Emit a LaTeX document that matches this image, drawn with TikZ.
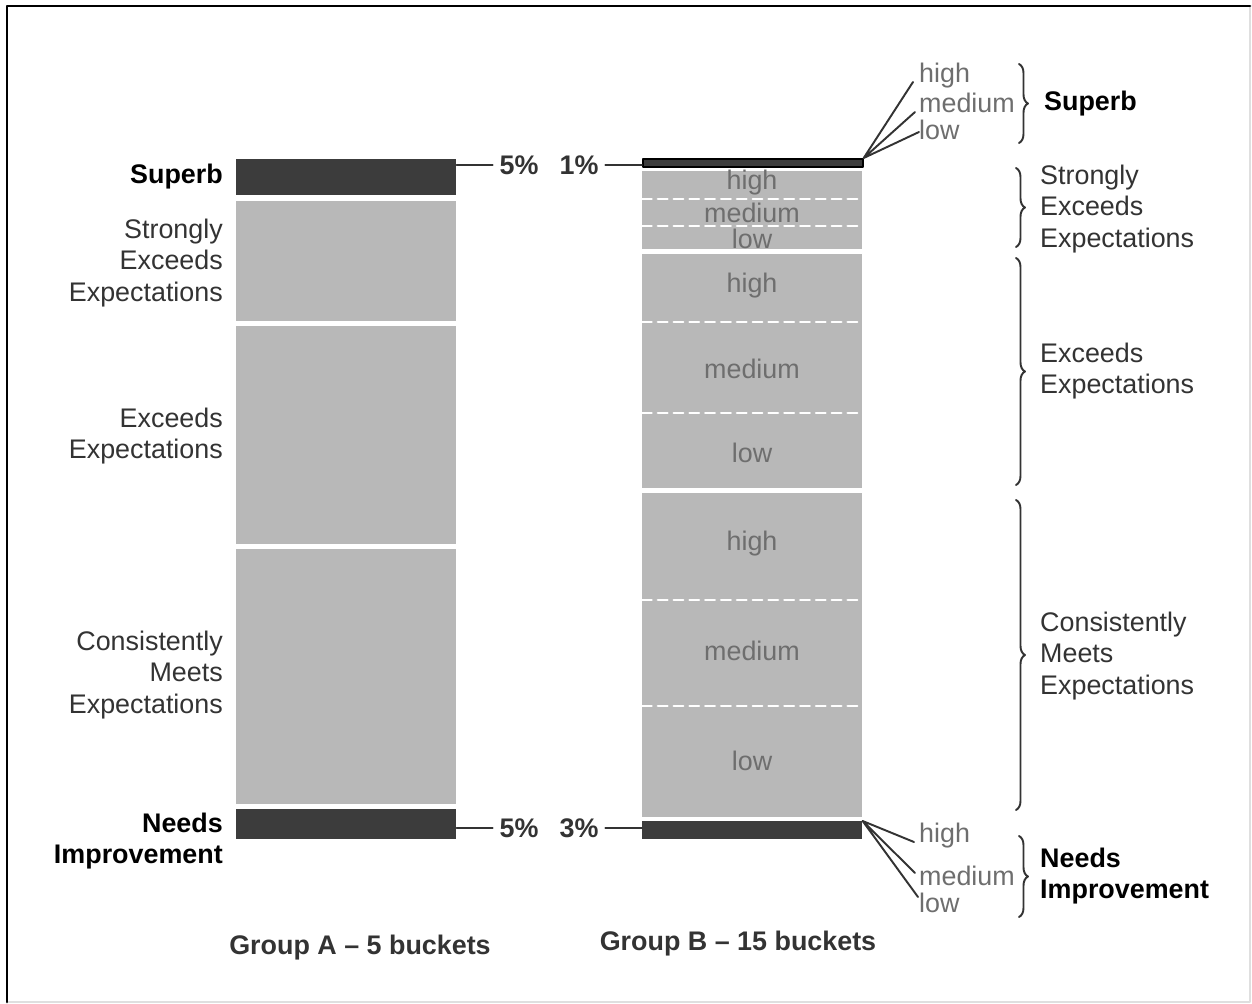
\documentclass[tikz,border=0pt]{standalone}
\usepackage{fontspec}
\setmainfont{Liberation Sans}
\usetikzlibrary{decorations.pathreplacing}
\definecolor{bardark}{HTML}{3C3C3C}
\definecolor{bargray}{HTML}{B8B8B8}
\definecolor{txtgray}{HTML}{333333}
\definecolor{subgray}{HTML}{6E6E6E}
\tikzset{
	bucket/.style={rectangle, inner sep=0pt, anchor=north west, minimum width=4.4cm},
	darkbucket/.style={bucket, fill=bardark},
	graybucket/.style={bucket, fill=bargray},
	split/.style={white, line width=1.3pt, dash pattern=on 5.5pt off 3.5pt},
	level/.style={text=subgray},
	rating/.style={text=txtgray, align=left, anchor=west},
	bigbrace/.style={decorate, decoration={brace, amplitude=0.18cm}, line width=1.1pt, txtgray},
}
\begin{document}
\begin{tikzpicture}[x=0.02cm, y=-0.02cm, font=\fontsize{15.3}{18}\selectfont, line join=round, line cap=round]
		\useasboundingbox (0,0) rectangle (1252,1004);
		% frame
		\draw[gray!25, line width=1pt] (1250,6) -- (1250,1002) -- (7,1002);
		\draw[line width=1.6pt] (7,1002) -- (7,6) -- (1250,6);

		% group A
		\node[darkbucket, minimum height=0.72cm] (supA) at (236,159) {};
		\node[graybucket, minimum height=2.4cm] (seeA) at (236,201) {};
		\node[graybucket, minimum height=4.36cm] (eeA) at (236,326) {};
		\node[graybucket, minimum height=5.1cm] (cmeA) at (236,549) {};
		\node[darkbucket, minimum height=0.6cm] (niA) at (236,809) {};

		\node[anchor=east, font=\fontsize{15.3}{18}\selectfont\bfseries] (supAl) at (229,177) {Superb};
		\node[anchor=east, align=right, text=txtgray] (seeAl) at (229,263) {Strongly\\Exceeds\\Expectations};
		\node[anchor=east, align=right, text=txtgray] (eeAl) at (229,436) {Exceeds\\Expectations};
		\node[anchor=east, align=right, text=txtgray] (cmeAl) at (229,675) {Consistently\\Meets\\Expectations};
		\node[anchor=east, align=right, font=\fontsize{15.3}{18}\selectfont\bfseries] (niAl) at (229,841) {Needs\\Improvement};

		% group B
		\node[darkbucket, draw=black, line width=1pt, minimum height=0.16cm] (supB) at (642,158) {};
		\node[graybucket, minimum height=1.56cm] (seeB) at (642,171) {};
		\node[graybucket, minimum height=4.68cm] (eeB) at (642,254) {};
		\node[graybucket, minimum height=6.48cm] (cmeB) at (642,493) {};
		\node[darkbucket, minimum height=0.36cm] (niB) at (642,821) {};
		\foreach \y in {199,226,322,413,600,706}
			\draw[split] (642,\y) -- (862,\y);

		\node[level] (hiSee) at (752,183) {high};
		\node[level] (mdSee) at (752,213) {medium};
		\node[level] (loSee) at (752,239) {low};
		\node[level] (hiEe) at (752,286) {high};
		\node[level] (mdEe) at (752,369) {medium};
		\node[level] (loEe) at (752,453) {low};
		\node[level] (hiCme) at (752,544) {high};
		\node[level] (mdCme) at (752,651) {medium};
		\node[level] (loCme) at (752,761) {low};

		% shares of the end buckets
		\begin{scope}[font=\fontsize{15.3}{18}\selectfont\bfseries, line width=1.1pt, txtgray]
			\node (shA1) at (519,165) {5\%};
			\node (shB1) at (579,165) {1\%};
			\node (shA2) at (519,828) {5\%};
			\node (shB2) at (579,828) {3\%};
			\draw (supA.east |- shA1) -- (shA1.west);
			\draw (shB1.east) -- (supB.west |- shB1);
			\draw (niA.east |- shA2) -- (shA2.west);
			\draw (shB2.east) -- (niB.west |- shB2);
		\end{scope}

		% superb and needs improvement split three ways
		\node[level, anchor=west] (hiSup) at (913,76) {high};
		\node[level, anchor=west] (mdSup) at (913,103) {medium};
		\node[level, anchor=west] (loSup) at (913,130) {low};
		\coordinate (fh) at (913,82);
		\coordinate (fm) at (915,112);
		\coordinate (fl) at (919,132);
		\draw[line width=1.1pt, txtgray] (supB.north east) -- (fh) (supB.north east) -- (fm) (supB.north east) -- (fl);

		\node[level, anchor=west] (hiNi) at (913,836) {high};
		\node[level, anchor=west] (mdNi) at (913,876) {medium};
		\node[level, anchor=west] (loNi) at (913,903) {low};
		\coordinate (nh) at (914,842);
		\coordinate (nm) at (915,873);
		\coordinate (nl) at (918,897);
		\draw[line width=1.1pt, txtgray] (niB.north east) -- (nh) (niB.north east) -- (nm) (niB.north east) -- (nl);

		% braces and ratings on the right
		\draw[bigbrace] (1019,64) -- (1019,143);
		\draw[bigbrace] (1016,168) -- (1016,247);
		\draw[bigbrace] (1016,258) -- (1016,485);
		\draw[bigbrace] (1016,500) -- (1016,810);
		\draw[bigbrace] (1019,836) -- (1019,917);
		\node[rating, font=\fontsize{15.3}{18}\selectfont\bfseries, text=black] (supR) at (1038,104) {Superb};
		\node[rating] (seeR) at (1034,209) {Strongly\\Exceeds\\Expectations};
		\node[rating] (eeR) at (1034,371) {Exceeds\\Expectations};
		\node[rating] (cmeR) at (1034,656) {Consistently\\Meets\\Expectations};
		\node[rating, font=\fontsize{15.3}{18}\selectfont\bfseries, text=black] (niR) at (1034,876) {Needs\\Improvement};

		% captions
		\node[font=\fontsize{15.3}{18}\selectfont\bfseries, text=txtgray] (capA) at (360,948) {Group A -- 5 buckets};
		\node[font=\fontsize{15.3}{18}\selectfont\bfseries, text=txtgray] (capB) at (738,944) {Group B -- 15 buckets};
	\end{tikzpicture}
\end{document}
